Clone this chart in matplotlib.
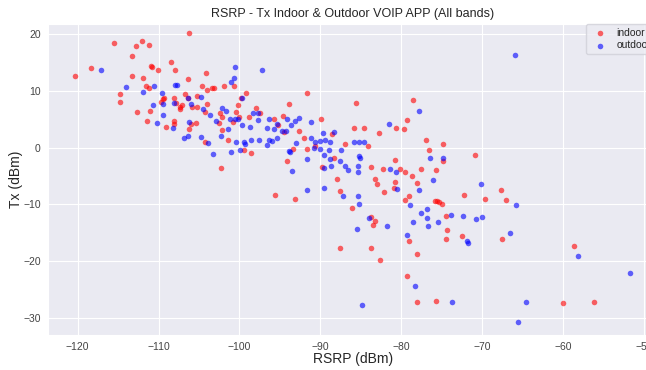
import matplotlib
matplotlib.use('Agg')
import matplotlib.pyplot as plt
import seaborn as sns

# indoor points (RSRP dBm, Tx dBm)
indoor_rsrp = [-120.3, -118.4, -115.5, -112.8, -112.1, -111.2, -113.3, -106.2, -108.4, -110.9,
               -110.8, -110.1, -108.0, -113.3, -111.9, -106.4, -104.1, -101.9, -100.7, -111.5,
               -111.2, -104.6, -104.0, -103.4, -103.1, -114.8, -114.8, -109.5, -109.3, -109.7,
               -108.1, -107.8, -107.4, -107.3, -107.1, -106.7, -106.4, -105.9, -105.3, -105.2,
               -104.0, -104.2, -102.4, -102.1, -100.2, -99.8, -99.2, -100.4, -100.1, -100.8,
               -112.6, -111.0, -111.4, -109.1, -108.1, -108.1, -106.0, -105.4, -106.2, -104.2,
               -102.3, -102.1, -101.4, -99.4, -102.5,
               -91.6, -93.9, -97.9, -97.4, -98.8, -95.7, -94.6, -95.2, -94.5, -92.6,
               -89.9, -92.0, -93.4, -94.1, -98.6, -90.6, -91.6, -88.6, -88.3, -89.8,
               -87.9, -86.9, -85.9, -84.6, -85.6, -84.1, -83.7, -83.3, -82.3, -82.7,
               -80.7, -79.7, -79.3, -78.5, -77.0, -76.6, -77.6, -78.7, -79.5, -80.2,
               -80.8, -80.8, -75.7, -74.9, -74.9, -70.9,
               -83.0, -78.1, -82.1, -80.9, -79.1, -79.5, -72.2, -69.6, -67.7, -67.0,
               -75.8, -75.6, -75.3, -75.0, -86.1, -74.5, -74.3, -74.5, -72.5, -83.7,
               -83.2, -83.5, -79.0, -83.8, -87.6, -82.6, -78.0, -67.5, -58.6, -79.3,
               -78.1, -75.7, -60.0, -56.2, -87.6, -95.6, -93.1]
indoor_tx = [12.6, 14.0, 18.4, 17.9, 18.7, 18.0, 16.1, 20.1, 15.1, 14.4,
             14.1, 13.6, 13.6, 12.6, 12.3, 12.0, 13.1, 10.8, 10.8, 10.8,
             10.5, 10.9, 10.2, 10.4, 10.4, 9.4, 8.1, 8.6, 8.8, 8.0,
             8.8, 7.9, 7.1, 6.7, 7.5, 9.4, 8.8, 7.2, 9.1, 7.2,
             7.6, 6.3, 6.1, 5.3, 7.5, 8.7, 9.6, 6.3, 5.4, 4.5,
             6.3, 6.5, 4.7, 3.7, 4.7, 4.1, 4.2, 4.3, 3.2, 0.9,
             -3.6, 3.0, 1.3, -0.5, 4.3,
             9.6, 7.6, 7.0, 6.0, 5.3, 5.0, 5.5, 4.0, 2.7, 2.9,
             5.1, 1.6, -0.2, -2.3, -1.0, 0.2, -0.2, 2.3, -1.8, -3.5,
             -5.5, 0.6, 3.4, 3.4, 7.9, 0.3, -3.5, -5.6, -3.8, 2.6,
             3.4, 3.2, 4.9, 8.3, 1.3, -0.5, -3.7, -5.1, -4.3, -3.8,
             -2.2, -6.0, -4.0, 0.6, -2.4, -1.4,
             -6.5, -6.2, -7.9, -7.1, -8.5, -9.3, -8.3, -9.1, -7.5, -9.2,
             -9.4, -9.5, -9.6, -9.9, -10.6, -12.1, -14.5, -16.1, -15.6, -12.2,
             -12.9, -13.7, -16.5, -17.7, -17.7, -19.8, -18.8, -16.2, -17.4, -22.6,
             -27.2, -27.0, -27.4, -27.2, -7.7, -8.4, -9.1]

# outdoor points
outdoor_rsrp = [-117.1, -100.5, -100.7, -101.0, -114.0, -110.5, -108.0, -107.7, -111.9, -109.6,
                -110.7, -109.5, -108.1, -106.4, -106.0, -104.7, -104.5, -103.6, -102.9, -102.2,
                -101.7, -101.2, -99.7, -100.5, -100.2, -99.7, -110.2, -109.5, -108.2, -106.2,
                -106.8, -106.3, -104.7, -103.9, -103.3, -102.3, -101.4, -101.0, -100.4, -99.9,
                -99.4, -99.3,
                -97.2, -98.3, -97.7, -97.7, -98.7, -96.3, -94.1, -92.6, -93.1, -93.6,
                -95.7, -96.6, -95.3, -94.7, -94.3, -91.2, -97.6, -98.6, -96.4, -96.6,
                -96.0, -95.3, -93.0, -93.9, -93.8, -91.1, -90.7, -90.8, -90.0, -89.4,
                -88.8, -89.7, -88.3, -90.1, -88.9, -89.6, -91.7, -87.5, -87.6, -88.8,
                -88.7, -89.6, -93.5, -86.9, -86.6, -85.8, -85.2, -84.6, -85.4, -85.2,
                -85.1, -85.4, -81.5, -77.8, -76.4, -80.6, -81.4, -76.1, -65.9, -74.8,
                -70.2, -80.5, -77.8, -65.8, -78.9, -87.2, -85.3, -85.2, -77.6, -76.8,
                -76.8, -78.6, -75.4, -76.7, -73.8, -72.4, -70.8, -70.0, -71.9, -71.8,
                -81.8, -85.5, -84.0, -79.3, -66.6, -58.1, -51.7, -78.3, -84.8, -73.7,
                -64.6, -65.6, -91.6, -89.6]
outdoor_tx = [13.7, 14.1, 12.3, 11.5, 10.6, 10.9, 11.0, 11.0, 9.8, 9.6,
              7.5, 7.6, 7.8, 8.8, 7.7, 8.9, 6.7, 5.8, 4.7, 6.9,
              6.4, 5.0, 8.7, 5.0, 5.1, 3.9, 4.3, 5.7, 3.5, 4.5,
              1.7, 2.0, 1.8, 0.8, -1.1, 2.0, 3.2, -0.8, 1.0, -0.4,
              1.0, 0.6,
              13.7, 6.1, 6.1, 4.8, 3.6, 5.0, 5.0, 5.2, 4.6, 3.9,
              3.3, 3.5, 4.1, 2.9, 2.9, 4.5, 1.3, 1.4, 1.3, 0.5,
              1.2, 1.7, 0.8, -0.6, -0.8, 1.6, 0.9, -0.1, 1.2, 1.4,
              1.0, 2.5, 2.8, -0.2, -0.4, -1.3, -2.1, -0.4, -2.3, -2.1,
              -3.2, -3.6, -4.1, -3.2, -3.9, 0.9, 0.9, 1.0, -3.2, -1.5,
              -1.8, -4.3, 4.1, 6.5, -1.9, -4.4, -3.7, -5.7, 16.3, -1.9,
              -6.5, -7.3, -7.4, -10.1, -10.2, -8.5, -8.6, -9.9, -11.5, -10.8,
              -12.5, -13.1, -13.1, -13.8, -11.9, -12.1, -12.6, -12.2, -16.4, -16.8,
              -13.8, -14.4, -12.5, -15.4, -15.1, -19.1, -22.1, -24.4, -27.8, -27.2,
              -27.2, -30.7, -7.5, -7.1]

sns.set_style('darkgrid')
plt.rcParams['font.family'] = ['Liberation Sans', 'DejaVu Sans']

fig = plt.figure(figsize=(6.46, 3.70), dpi=100)
# the original picture is cropped on the right, so the axes run past the edge
ax = fig.add_axes([0.075, 0.095, 0.942, 0.84])

ax.scatter(indoor_rsrp, indoor_tx, c='red', s=16, alpha=0.6, linewidths=0, label='indoor')
ax.scatter(outdoor_rsrp, outdoor_tx, c='blue', s=16, alpha=0.6, linewidths=0, label='outdoor')

ax.set_xlim(-123.6, -48.4)
ax.set_ylim(-33.0, 21.75)
ax.set_xticks(range(-120, -49, 10))
ax.set_yticks(range(-30, 21, 10))
ax.tick_params(labelsize=7.5, colors='#444444', pad=2)

ax.set_title('RSRP - Tx Indoor & Outdoor VOIP APP (All bands)', fontsize=9, color='#262626', pad=5)
ax.set_xlabel('RSRP (dBm)', fontsize=10, color='#262626', labelpad=0)
ax.set_ylabel('Tx (dBm)', fontsize=10, color='#262626', labelpad=0)

leg = ax.legend(loc='upper left', bbox_to_anchor=(586 / 646, 1 - 24 / 370),
                bbox_transform=fig.transFigure, fontsize=7.5, frameon=True,
                borderaxespad=0, borderpad=0.35, labelspacing=0.25,
                handlelength=1.9, handletextpad=0.7)
leg.get_frame().set_facecolor('#ECECF3')
leg.get_frame().set_edgecolor('#d0d0d8')

fig.savefig('out.png', dpi=100)
